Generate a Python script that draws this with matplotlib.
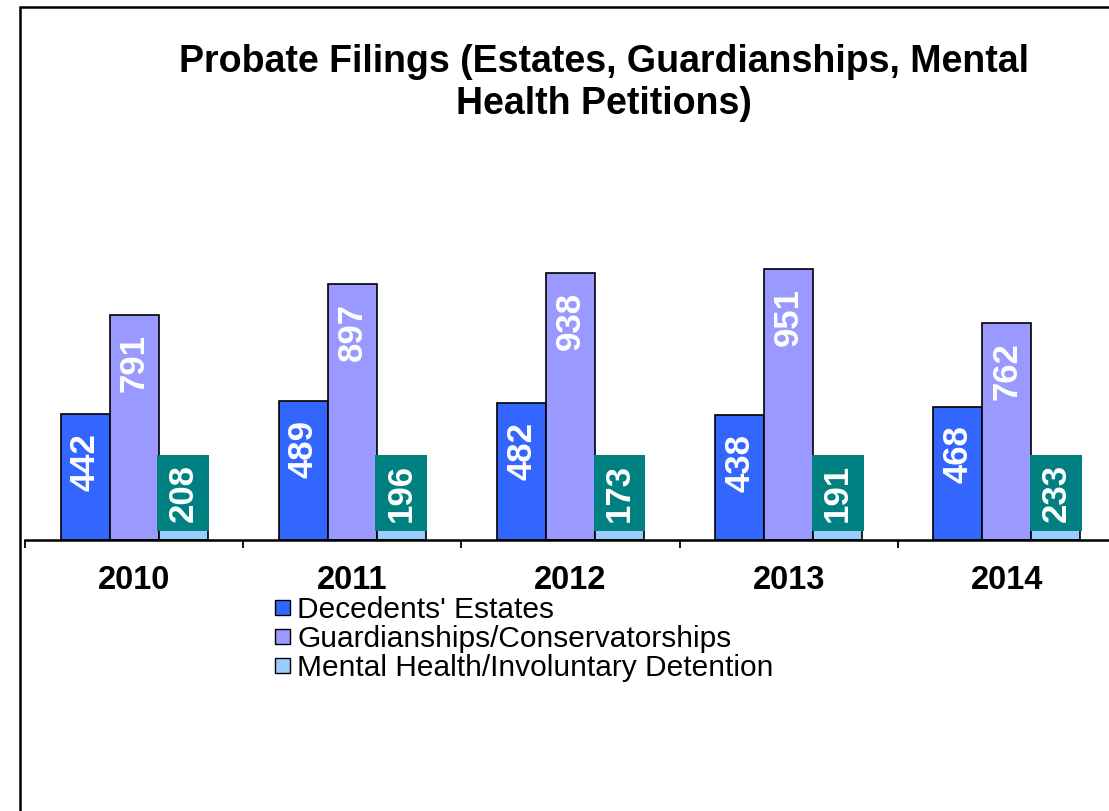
import matplotlib
matplotlib.use("Agg")
import matplotlib.pyplot as plt
from matplotlib.patches import Patch, Rectangle
import numpy as np

years = ["2010", "2011", "2012", "2013", "2014"]
decedents = [442, 489, 482, 438, 468]
guardianships = [791, 897, 938, 951, 762]
mental_health = [208, 196, 173, 191, 233]
series_names = ["Decedents' Estates", "Guardianships/Conservatorships",
                "Mental Health/Involuntary Detention"]
colors = ["#3366FF", "#9999FF", "#99CCFF"]
label_box_color = "#008080"

plt.rcParams['font.family'] = ['Liberation Sans', 'DejaVu Sans']

W, H = 1109, 811
fig = plt.figure(figsize=(W / 100, H / 100), dpi=100)

# axes geometry in pixels
left_px, base_px, right_px = 25, 540, 1116
px_per_unit = 0.285
ymax = 1000
top_px = base_px - ymax * px_per_unit
ax = fig.add_axes([left_px / W, (H - base_px) / H, (right_px - left_px) / W,
                   (base_px - top_px) / H])
ax.set_xlim(-0.5, len(years) - 0.5)
ax.set_ylim(0, ymax)

x = np.arange(len(years))
bw = 0.2245
offsets = [-bw, 0, bw]
data = [decedents, guardianships, mental_health]
for i, (vals, c) in enumerate(zip(data, colors)):
    ax.bar(x + offsets[i], vals, width=bw, color=c, edgecolor="black",
           linewidth=1.2, zorder=2)
    for xi, v in zip(x + offsets[i], vals):
        if i < 2:
            ax.annotate(str(v), (xi, v), xytext=(0, -19), textcoords="offset pixels",
                        rotation=90, ha="center", va="top", color="white",
                        fontsize=25, fontweight="bold", zorder=3)
        else:
            ax.annotate(str(v), (xi, 0), xytext=(0, 47), textcoords="offset pixels",
                        rotation=90, ha="center", va="center", color="white",
                        fontsize=25, fontweight="bold", zorder=3,
                        bbox=dict(boxstyle="square,pad=0.27", fc=label_box_color,
                                  ec="none"))

for s in ["left", "right", "top"]:
    ax.spines[s].set_visible(False)
ax.spines["bottom"].set_linewidth(1.8)
ax.set_yticks([])
ax.set_xticks(x)
ax.set_xticklabels(years, fontsize=23.5, fontweight="bold")
ax.tick_params(axis="x", which="major", length=0, pad=18)
ax.set_xticks(np.arange(-0.5, len(years), 1.0), minor=True)
ax.tick_params(axis="x", which="minor", length=6, width=1.3, direction="out")

fig.text(604 / W, 1 - 62 / H, "Probate Filings (Estates, Guardianships, Mental",
         ha="center", va="center", fontsize=27, fontweight="bold")
fig.text(604 / W, 1 - 104 / H, "Health Petitions)",
         ha="center", va="center", fontsize=27, fontweight="bold")

handles = [Patch(facecolor=c, edgecolor="black", linewidth=1) for c in colors]
fig.legend(handles, series_names, loc="upper left",
           bbox_to_anchor=(275 / W, 1 - 596 / H), frameon=False,
           fontsize=21.5, handlelength=0.5, handleheight=0.4, handletextpad=0.25,
           labelspacing=0.04, borderpad=0, borderaxespad=0)

fig.patches.append(Rectangle((20 / W, -0.1), 1.2, 1 - 7 / H + 0.1,
                             transform=fig.transFigure, fill=False,
                             edgecolor="black", linewidth=1.8))

fig.savefig("out.png", dpi=100)
